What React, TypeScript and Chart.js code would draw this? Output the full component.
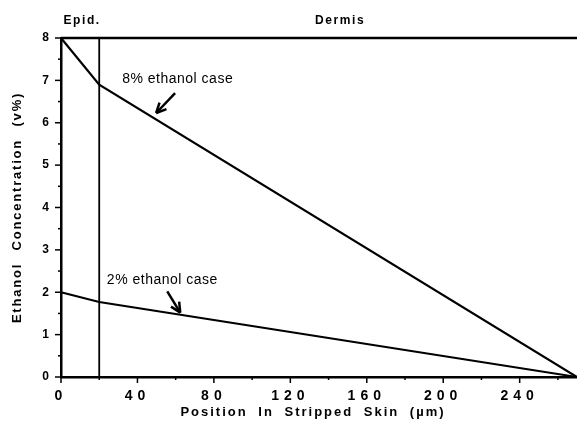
import { useEffect, useRef } from "react";
import { Chart, registerables } from "chart.js";

Chart.register(...registerables);

// Position in stripped skin (µm)
const positions = [0, 20, 270];
// Ethanol concentration profiles (v%)
const conc8 = [8, 6.9, 0];
const conc2 = [2, 1.77, 0];
// Epidermis / dermis boundary and the top reference level
const boundaryPos = [20, 20];
const boundaryConc = [0, 8];
const topPos = [0, 270];
const topConc = [8, 8];

// Axis ticks
const xMajorTicks = [0, 40, 80, 120, 160, 200, 240];
const xAllTicks = [0, 20, 40, 60, 80, 100, 120, 140, 160, 180, 200, 220, 240, 260];
const yMajorTicks = [0, 1, 2, 3, 4, 5, 6, 7, 8];
const yAllTicks = [0, 0.5, 1, 1.5, 2, 2.5, 3, 3.5, 4, 4.5, 5, 5.5, 6, 6.5, 7, 7.5, 8];

// Skin layers shown above the plot
const regionNames = ["Epid.", "Dermis"];
const regionStart = [0, 20];
const regionEnd = [20, 270];

const caseLabels = ["8% ethanol case", "2% ethanol case"];

// Where each case label and its arrow sit, in data units
const annotations = [
  { label: caseLabels[0], at: [32, 7.03], tail: [59.7, 6.7], tip: [49.8, 6.23] },
  { label: caseLabels[1], at: [24, 2.29], tail: [55.6, 2.02], tip: [62.4, 1.52] },
];

const FONT = "'Liberation Sans', Arial, Helvetica, sans-serif";

const toPoints = (xs: number[], ys: number[]) => xs.map((x, i) => ({ x, y: ys[i] }));

const decorPlugin = {
  id: "decor",
  beforeDraw(chart: any) {
    // wide spacing for the axis numbers
    chart.ctx.letterSpacing = "5px";
  },
  afterDraw(chart: any) {
    const { ctx, chartArea: a, scales } = chart;
    const xs = scales.x;
    const ys = scales.y;
    ctx.save();
    ctx.letterSpacing = "0px";
    ctx.strokeStyle = "#000";
    ctx.fillStyle = "#000";
    ctx.lineCap = "butt";

    const seg = (x1: number, y1: number, x2: number, y2: number) => {
      ctx.beginPath();
      ctx.moveTo(x1, y1);
      ctx.lineTo(x2, y2);
      ctx.stroke();
    };

    // tick marks, major and minor
    ctx.lineWidth = 1.5;
    yAllTicks.forEach((v) => {
      const len = yMajorTicks.includes(v) ? 6 : 3;
      const py = ys.getPixelForValue(v);
      seg(a.left - len, py, a.left, py);
    });
    xAllTicks.forEach((v) => {
      const len = xMajorTicks.includes(v) ? 6 : 3;
      const px = xs.getPixelForValue(v);
      seg(px, a.bottom, px, a.bottom + len);
    });

    // region headers
    ctx.font = `bold 12px ${FONT}`;
    ctx.letterSpacing = "1.6px";
    ctx.textAlign = "center";
    ctx.textBaseline = "middle";
    regionNames.forEach((name, i) => {
      const cx = (xs.getPixelForValue(regionStart[i]) + xs.getPixelForValue(regionEnd[i])) / 2;
      ctx.fillText(name, cx + 2, a.top - 17);
    });

    // case labels with arrows
    ctx.font = `14px ${FONT}`;
    ctx.letterSpacing = "0.5px";
    ctx.textAlign = "left";
    annotations.forEach((an) => {
      ctx.fillText(an.label, xs.getPixelForValue(an.at[0]), ys.getPixelForValue(an.at[1]));
      const tx = xs.getPixelForValue(an.tail[0]);
      const ty = ys.getPixelForValue(an.tail[1]);
      const hx = xs.getPixelForValue(an.tip[0]);
      const hy = ys.getPixelForValue(an.tip[1]);
      ctx.lineWidth = 2.5;
      seg(tx, ty, hx, hy);
      const ang = Math.atan2(hy - ty, hx - tx);
      const hl = 11;
      [0.45, -0.45].forEach((d) => {
        seg(hx, hy, hx - hl * Math.cos(ang + d), hy - hl * Math.sin(ang + d));
      });
    });

    // axis titles
    ctx.font = `bold 13px ${FONT}`;
    ctx.letterSpacing = "2px";
    (ctx as any).wordSpacing = "5px";
    ctx.textAlign = "center";
    ctx.fillText("Position In Stripped Skin (µm)", (a.left + a.right) / 2 - 6, a.bottom + 35);
    ctx.save();
    ctx.translate(17, (a.top + a.bottom) / 2);
    ctx.rotate(-Math.PI / 2);
    ctx.letterSpacing = "1.8px";
    (ctx as any).wordSpacing = "7px";
    ctx.fillText("Ethanol Concentration (v%)", 0, 0);
    ctx.restore();

    ctx.restore();
  },
};

export default function App() {
  const canvasRef = useRef<HTMLCanvasElement | null>(null);

  useEffect(() => {
    const canvas = canvasRef.current;
    if (!canvas) return;
    const lineStyle = {
      borderColor: "#000",
      pointRadius: 0,
      fill: false,
      tension: 0,
      clip: 6,
    };
    const chart = new Chart(canvas, {
      type: "line",
      data: {
        datasets: [
          { ...lineStyle, data: toPoints(positions, conc8), borderWidth: 2.2 },
          { ...lineStyle, data: toPoints(positions, conc2), borderWidth: 2.2 },
          { ...lineStyle, data: toPoints(boundaryPos, boundaryConc), borderWidth: 1.8 },
          { ...lineStyle, data: toPoints(topPos, topConc), borderWidth: 2.5 },
        ],
      },
      options: {
        animation: false,
        responsive: false,
        maintainAspectRatio: false,
        devicePixelRatio: 1,
        layout: { padding: { top: 38, right: 0, bottom: 0, left: 0 } },
        plugins: {
          legend: { display: false },
          tooltip: { enabled: false },
        },
        scales: {
          x: {
            type: "linear",
            min: 0,
            max: 270,
            afterBuildTicks: (s: any) => {
              s.ticks = xMajorTicks.map((value) => ({ value }));
            },
            afterFit: (s: any) => {
              s.height = 45;
            },
            ticks: {
              color: "#000",
              font: { family: FONT, size: 14, weight: "bold" },
              padding: 11,
              maxRotation: 0,
              autoSkip: false,
            },
            grid: { display: false, drawTicks: false },
            border: { display: true, color: "#000", width: 2.5 },
          },
          y: {
            type: "linear",
            min: 0,
            max: 8,
            afterBuildTicks: (s: any) => {
              s.ticks = yMajorTicks.map((value) => ({ value }));
            },
            afterFit: (s: any) => {
              s.width = 61;
            },
            ticks: {
              color: "#000",
              font: { family: FONT, size: 12, weight: "bold" },
              padding: 7,
            },
            grid: { display: false, drawTicks: false },
            border: { display: true, color: "#000", width: 2.5 },
          },
        },
      },
      plugins: [decorPlugin],
    } as any);
    return () => chart.destroy();
  }, []);

  return (
    <div style={{ position: "fixed", left: 0, top: 0, width: 577, height: 422, background: "#fff" }}>
      <canvas ref={canvasRef} width={577} height={422} style={{ display: "block" }} />
    </div>
  );
}
